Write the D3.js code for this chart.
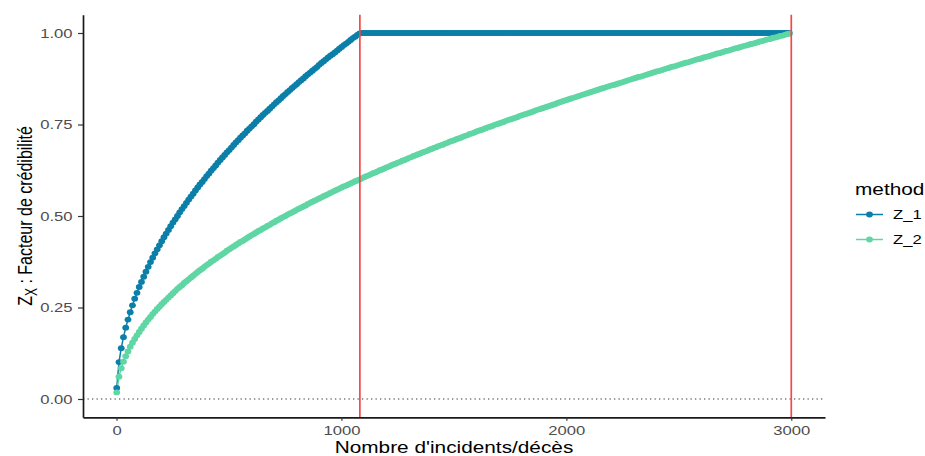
<!DOCTYPE html>
<html>
<head>
<meta charset="utf-8">
<script src="https://cdn.jsdelivr.net/npm/d3@7/dist/d3.min.js"></script>
<style>
  html, body { margin: 0; padding: 0; background: #ffffff; }
  svg { display: block; font-family: "Liberation Sans", Arial, sans-serif; }
</style>
</head>
<body>
<svg id="chart" width="925" height="456"></svg>
<script>
// Number of incidents / deaths (x)
const nValues = [
  1,11,21,31,41,51,61,71,81,91,
  101,111,121,131,141,151,161,171,181,191,
  201,211,221,231,241,251,261,271,281,291,
  301,311,321,331,341,351,361,371,381,391,
  401,411,421,431,441,451,461,471,481,491,
  501,511,521,531,541,551,561,571,581,591,
  601,611,621,631,641,651,661,671,681,691,
  701,711,721,731,741,751,761,771,781,791,
  801,811,821,831,841,851,861,871,881,891,
  901,911,921,931,941,951,961,971,981,991,
  1001,1011,1021,1031,1041,1051,1061,1071,1081,1091,
  1101,1111,1121,1131,1141,1151,1161,1171,1181,1191,
  1201,1211,1221,1231,1241,1251,1261,1271,1281,1291,
  1301,1311,1321,1331,1341,1351,1361,1371,1381,1391,
  1401,1411,1421,1431,1441,1451,1461,1471,1481,1491,
  1501,1511,1521,1531,1541,1551,1561,1571,1581,1591,
  1601,1611,1621,1631,1641,1651,1661,1671,1681,1691,
  1701,1711,1721,1731,1741,1751,1761,1771,1781,1791,
  1801,1811,1821,1831,1841,1851,1861,1871,1881,1891,
  1901,1911,1921,1931,1941,1951,1961,1971,1981,1991,
  2001,2011,2021,2031,2041,2051,2061,2071,2081,2091,
  2101,2111,2121,2131,2141,2151,2161,2171,2181,2191,
  2201,2211,2221,2231,2241,2251,2261,2271,2281,2291,
  2301,2311,2321,2331,2341,2351,2361,2371,2381,2391,
  2401,2411,2421,2431,2441,2451,2461,2471,2481,2491,
  2501,2511,2521,2531,2541,2551,2561,2571,2581,2591,
  2601,2611,2621,2631,2641,2651,2661,2671,2681,2691,
  2701,2711,2721,2731,2741,2751,2761,2771,2781,2791,
  2801,2811,2821,2831,2841,2851,2861,2871,2881,2891,
  2901,2911,2921,2931,2941,2951,2961,2971,2981,2991
];

// Credibility factor, method Z_1
const z1Values = [
  0.030,0.101,0.139,0.169,0.195,0.217,0.237,0.256,0.274,0.290,
  0.306,0.320,0.334,0.348,0.361,0.374,0.386,0.398,0.409,0.420,
  0.431,0.442,0.452,0.462,0.472,0.482,0.491,0.500,0.510,0.519,
  0.527,0.536,0.545,0.553,0.561,0.570,0.578,0.586,0.593,0.601,
  0.609,0.616,0.624,0.631,0.638,0.646,0.653,0.660,0.667,0.674,
  0.680,0.687,0.694,0.701,0.707,0.714,0.720,0.726,0.733,0.739,
  0.745,0.751,0.758,0.764,0.770,0.776,0.782,0.787,0.793,0.799,
  0.805,0.811,0.816,0.822,0.828,0.833,0.839,0.844,0.850,0.855,
  0.860,0.866,0.871,0.876,0.882,0.887,0.892,0.897,0.902,0.907,
  0.913,0.918,0.923,0.928,0.933,0.938,0.942,0.947,0.952,0.957,
  0.962,0.967,0.971,0.976,0.981,0.986,0.990,0.995,0.999,1,
  1,1,1,1,1,1,1,1,1,1,
  1,1,1,1,1,1,1,1,1,1,
  1,1,1,1,1,1,1,1,1,1,
  1,1,1,1,1,1,1,1,1,1,
  1,1,1,1,1,1,1,1,1,1,
  1,1,1,1,1,1,1,1,1,1,
  1,1,1,1,1,1,1,1,1,1,
  1,1,1,1,1,1,1,1,1,1,
  1,1,1,1,1,1,1,1,1,1,
  1,1,1,1,1,1,1,1,1,1,
  1,1,1,1,1,1,1,1,1,1,
  1,1,1,1,1,1,1,1,1,1,
  1,1,1,1,1,1,1,1,1,1,
  1,1,1,1,1,1,1,1,1,1,
  1,1,1,1,1,1,1,1,1,1,
  1,1,1,1,1,1,1,1,1,1,
  1,1,1,1,1,1,1,1,1,1,
  1,1,1,1,1,1,1,1,1,1,
  1,1,1,1,1,1,1,1,1,1
];

// Credibility factor, method Z_2
const z2Values = [
  0.018,0.061,0.084,0.102,0.117,0.130,0.143,0.154,0.164,0.174,
  0.183,0.192,0.201,0.209,0.217,0.224,0.232,0.239,0.246,0.252,
  0.259,0.265,0.271,0.277,0.283,0.289,0.295,0.301,0.306,0.311,
  0.317,0.322,0.327,0.332,0.337,0.342,0.347,0.352,0.356,0.361,
  0.366,0.370,0.375,0.379,0.383,0.388,0.392,0.396,0.400,0.405,
  0.409,0.413,0.417,0.421,0.425,0.429,0.432,0.436,0.440,0.444,
  0.448,0.451,0.455,0.459,0.462,0.466,0.469,0.473,0.476,0.480,
  0.483,0.487,0.490,0.494,0.497,0.500,0.504,0.507,0.510,0.513,
  0.517,0.520,0.523,0.526,0.529,0.533,0.536,0.539,0.542,0.545,
  0.548,0.551,0.554,0.557,0.560,0.563,0.566,0.569,0.572,0.575,
  0.578,0.581,0.583,0.586,0.589,0.592,0.595,0.597,0.600,0.603,
  0.606,0.609,0.611,0.614,0.617,0.619,0.622,0.625,0.627,0.630,
  0.633,0.635,0.638,0.641,0.643,0.646,0.648,0.651,0.653,0.656,
  0.659,0.661,0.664,0.666,0.669,0.671,0.674,0.676,0.678,0.681,
  0.683,0.686,0.688,0.691,0.693,0.695,0.698,0.700,0.703,0.705,
  0.707,0.710,0.712,0.714,0.717,0.719,0.721,0.724,0.726,0.728,
  0.731,0.733,0.735,0.737,0.740,0.742,0.744,0.746,0.749,0.751,
  0.753,0.755,0.757,0.760,0.762,0.764,0.766,0.768,0.770,0.773,
  0.775,0.777,0.779,0.781,0.783,0.785,0.788,0.790,0.792,0.794,
  0.796,0.798,0.800,0.802,0.804,0.806,0.809,0.811,0.813,0.815,
  0.817,0.819,0.821,0.823,0.825,0.827,0.829,0.831,0.833,0.835,
  0.837,0.839,0.841,0.843,0.845,0.847,0.849,0.851,0.853,0.855,
  0.857,0.858,0.860,0.862,0.864,0.866,0.868,0.870,0.872,0.874,
  0.876,0.878,0.880,0.881,0.883,0.885,0.887,0.889,0.891,0.893,
  0.895,0.896,0.898,0.900,0.902,0.904,0.906,0.908,0.909,0.911,
  0.913,0.915,0.917,0.919,0.920,0.922,0.924,0.926,0.928,0.929,
  0.931,0.933,0.935,0.936,0.938,0.940,0.942,0.944,0.945,0.947,
  0.949,0.951,0.952,0.954,0.956,0.958,0.959,0.961,0.963,0.965,
  0.966,0.968,0.970,0.971,0.973,0.975,0.977,0.978,0.980,0.982,
  0.983,0.985,0.987,0.988,0.990,0.992,0.993,0.995,0.997,0.998
];

const seriesNames = ["Z_1", "Z_2"];
const seriesColors = ["#0b7fa8", "#5fd6a4"];
const thresholds = [1082, 3000];   // full-credibility standards (vertical lines)
const xTicks = [0, 1000, 2000, 3000];
const yTicks = [0, 0.25, 0.5, 0.75, 1];
const xLabel = "Nombre d'incidents/décès";
const yLabelMain = "Z";
const yLabelSub = "X";
const yLabelRest = " : Facteur de crédibilité";
const legendTitle = "method";

// ---- layout ----
const svg = d3.select("#chart");
const SX = 1.3;                 // horizontal text stretch
const panel = { left: 83, right: 825, top: 14.7, bottom: 417.3 };

const xMin = d3.min([d3.min(nValues), d3.min(thresholds)]);
const xMax = d3.max([d3.max(nValues), d3.max(thresholds)]);
const xPad = (xMax - xMin) * 0.05;
const x = d3.scaleLinear().domain([xMin - xPad, xMax + xPad]).range([panel.left, panel.right]);
const y = d3.scaleLinear().domain([-0.05, 1.05]).range([panel.bottom, panel.top]);

const series = seriesNames.map((name, i) => ({
  name,
  color: seriesColors[i],
  points: nValues.map((n, j) => ({ n, z: i === 0 ? z1Values[j] : z2Values[j] }))
}));

// dotted reference line at zero
svg.append("line")
  .attr("x1", panel.left).attr("x2", panel.right)
  .attr("y1", y(0)).attr("y2", y(0))
  .attr("stroke", "#333").attr("stroke-width", 1.1)
  .attr("stroke-dasharray", "1.3,3.2");

// series lines
const line = d3.line().x(d => x(d.n)).y(d => y(d.z));
svg.append("g").selectAll("path")
  .data(series).join("path")
  .attr("d", d => line(d.points))
  .attr("fill", "none")
  .attr("stroke", d => d.color)
  .attr("stroke-width", 1.5);

// series points
series.forEach(s => {
  svg.append("g").selectAll("ellipse")
    .data(s.points).join("ellipse")
    .attr("cx", d => x(d.n))
    .attr("cy", d => y(d.z))
    .attr("rx", 3.4).attr("ry", 2.9)
    .attr("fill", s.color);
});

// threshold lines
svg.append("g").selectAll("line")
  .data(thresholds).join("line")
  .attr("x1", d => x(d)).attr("x2", d => x(d))
  .attr("y1", panel.top).attr("y2", panel.bottom)
  .attr("stroke", "#f44848").attr("stroke-width", 1.7);

// ---- axes ----
const xAxis = svg.append("g")
  .attr("transform", `translate(0,${panel.bottom})`)
  .call(d3.axisBottom(x).tickValues(xTicks).tickFormat(d3.format("d")).tickSize(3.5).tickSizeOuter(0));
const yAxis = svg.append("g")
  .attr("transform", `translate(${panel.left},0)`)
  .call(d3.axisLeft(y).tickValues(yTicks).tickFormat(d3.format(".2f")).tickSize(5).tickSizeOuter(0));

[xAxis, yAxis].forEach(a => {
  a.select(".domain").attr("stroke", "#1a1a1a").attr("stroke-width", 1.7);
  a.selectAll(".tick line").attr("stroke", "#333").attr("stroke-width", 1.2);
  a.selectAll(".tick text")
    .attr("fill", "#4d4d4d")
    .attr("font-size", 12.8)
    .attr("font-family", "'Liberation Sans', Arial, sans-serif");
});
xAxis.selectAll(".tick text")
  .attr("dy", null)
  .attr("y", 17.8)
  .attr("transform", `scale(${SX},1)`);
yAxis.selectAll(".tick text")
  .attr("x", -10.5 / SX)
  .attr("transform", `scale(${SX},1)`);

// x title
svg.append("text")
  .attr("transform", `translate(${(panel.left + panel.right) / 2},453) scale(${SX},1)`)
  .attr("text-anchor", "middle")
  .attr("font-size", 16)
  .attr("fill", "#000")
  .text(xLabel);

// y title with subscript
const yTitle = svg.append("text")
  .attr("transform", `translate(32,${(panel.top + panel.bottom) / 2}) scale(${SX},1) rotate(-90)`)
  .attr("text-anchor", "middle")
  .attr("font-size", 16)
  .attr("fill", "#000");
yTitle.append("tspan").text(yLabelMain);
yTitle.append("tspan").attr("font-size", 12).attr("dy", 4).text(yLabelSub);
yTitle.append("tspan").attr("dy", -4).text(yLabelRest);

// ---- legend ----
const legend = svg.append("g");
legend.append("text")
  .attr("transform", `translate(855,195) scale(${SX},1)`)
  .attr("font-size", 16)
  .attr("fill", "#000")
  .text(legendTitle);

const keys = legend.selectAll("g.key")
  .data(series).join("g")
  .attr("class", "key")
  .attr("transform", (d, i) => `translate(0,${214.5 + i * 25})`);
keys.append("line")
  .attr("x1", 856).attr("x2", 883)
  .attr("y1", 0).attr("y2", 0)
  .attr("stroke", d => d.color).attr("stroke-width", 1.5);
keys.append("ellipse")
  .attr("cx", 869.5).attr("cy", 0)
  .attr("rx", 3.4).attr("ry", 2.9)
  .attr("fill", d => d.color);
keys.append("text")
  .attr("transform", `translate(893,4.6) scale(${SX},1)`)
  .attr("font-size", 12.8)
  .attr("fill", "#000")
  .text(d => d.name);
</script>
</body>
</html>
